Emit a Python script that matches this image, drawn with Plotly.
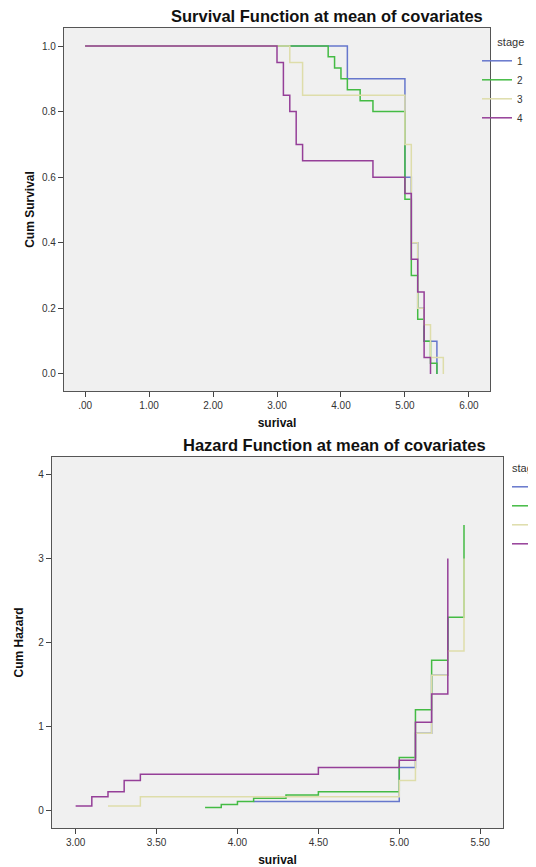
import plotly.graph_objects as go

# ---------------- data ----------------
stages = ["1", "2", "3", "4"]
colors = ["#6677cc", "#44bb44", "#deddaa", "#953f98"]

# Survival function (step, drawn with 'hv')
surv_t1 = [0, 4.1, 5.0, 5.1, 5.2, 5.3, 5.5]
surv_s1 = [1.0, 0.90, 0.60, 0.40, 0.20, 0.10, 0.0]
surv_t2 = [0, 3.8, 3.9, 4.0, 4.1, 4.3, 4.5, 5.0, 5.1, 5.2, 5.3, 5.4, 5.5]
surv_s2 = [1.0, 0.967, 0.933, 0.90, 0.867, 0.833, 0.80, 0.533, 0.30, 0.167, 0.10, 0.033, 0.0]
surv_t3 = [0, 3.2, 3.4, 5.0, 5.1, 5.2, 5.3, 5.4, 5.6]
surv_s3 = [1.0, 0.95, 0.85, 0.70, 0.40, 0.20, 0.15, 0.05, 0.0]
surv_t4 = [0, 3.0, 3.1, 3.2, 3.3, 3.4, 4.5, 5.0, 5.1, 5.2, 5.3, 5.4]
surv_s4 = [1.0, 0.95, 0.85, 0.80, 0.70, 0.65, 0.60, 0.55, 0.35, 0.25, 0.05, 0.0]

# Cumulative hazard (step, drawn with 'hv')
haz_t1 = [4.1, 5.0, 5.1, 5.2, 5.3]
haz_h1 = [0.105, 0.51, 0.92, 1.61, 2.30]
haz_t2 = [3.8, 3.9, 4.0, 4.1, 4.3, 4.5, 5.0, 5.1, 5.2, 5.3, 5.4]
haz_h2 = [0.034, 0.069, 0.105, 0.143, 0.182, 0.223, 0.63, 1.20, 1.79, 2.30, 3.40]
haz_t3 = [3.2, 3.4, 5.0, 5.1, 5.2, 5.3, 5.4]
haz_h3 = [0.051, 0.163, 0.357, 0.92, 1.61, 1.90, 3.0]
haz_t4 = [3.0, 3.1, 3.2, 3.3, 3.4, 4.5, 5.0, 5.1, 5.2, 5.3]
haz_h4 = [0.051, 0.163, 0.223, 0.357, 0.431, 0.511, 0.598, 1.05, 1.386, 3.0]

surv_x_ticks = [0, 1, 2, 3, 4, 5, 6]
surv_x_labels = [".00", "1.00", "2.00", "3.00", "4.00", "5.00", "6.00"]
surv_y_ticks = [0, 0.2, 0.4, 0.6, 0.8, 1.0]
surv_y_labels = ["0.0", "0.2", "0.4", "0.6", "0.8", "1.0"]
haz_x_ticks = [3.0, 3.5, 4.0, 4.5, 5.0, 5.5]
haz_x_labels = ["3.00", "3.50", "4.00", "4.50", "5.00", "5.50"]
haz_y_ticks = [0, 1, 2, 3, 4]
haz_y_labels = ["0", "1", "2", "3", "4"]

surv_t = [surv_t1, surv_t2, surv_t3, surv_t4]
surv_s = [surv_s1, surv_s2, surv_s3, surv_s4]
haz_t = [haz_t1, haz_t2, haz_t3, haz_t4]
haz_h = [haz_h1, haz_h2, haz_h3, haz_h4]

# ---------------- figure ----------------
OFF = 8  # page body margin
W, H = 536 - OFF, 867 - OFF
FONT = "Liberation Sans, Arial, sans-serif"
NB = "\u00a0"

fig = go.Figure()
for i, st in enumerate(stages):
    fig.add_trace(go.Scatter(
        x=surv_t[i], y=surv_s[i], mode="lines", line=dict(shape="hv", color=colors[i], width=1.5),
        name=st, xaxis="x", yaxis="y", legend="legend"))
for i, st in enumerate(stages):
    fig.add_trace(go.Scatter(
        x=haz_t[i], y=haz_h[i], mode="lines", line=dict(shape="hv", color=colors[i], width=1.5),
        name=st, xaxis="x2", yaxis="y2", legend="legend2"))


def px_x(p):
    return (p - OFF) / W


def px_y(p):
    return 1 - (p - OFF) / H


axis_common = dict(
    showgrid=False, zeroline=False, showline=True, mirror=True,
    linecolor="#555555", linewidth=1.3, ticks="outside", ticklen=5,
    tickcolor="#444444", tickfont=dict(family=FONT, size=10, color="#333333"),
)
title_font = dict(size=12, family=FONT, color="#111")

fig.update_layout(
    width=W, height=H,
    margin=dict(l=0, r=0, t=0, b=0, autoexpand=False),
    paper_bgcolor="white", plot_bgcolor="#f0f0f0",
    font=dict(family=FONT, color="#222222"),
    xaxis=dict(domain=[px_x(64), px_x(490)], range=[-0.33, 6.33], anchor="y",
               tickvals=surv_x_ticks, ticktext=surv_x_labels,
               title=dict(text="<b>surival</b>", font=title_font, standoff=8),
               **axis_common),
    yaxis=dict(domain=[px_y(391), px_y(28)], range=[-0.052, 1.055], anchor="x",
               tickvals=surv_y_ticks, ticktext=surv_y_labels,
               title=dict(text="<b>Cum Survival</b>", font=title_font, standoff=4),
               **axis_common),
    xaxis2=dict(domain=[px_x(52), px_x(503)], range=[2.854, 5.641], anchor="y2",
                tickvals=haz_x_ticks, ticktext=haz_x_labels,
                title=dict(text="<b>surival</b>", font=title_font, standoff=8),
                **axis_common),
    yaxis2=dict(domain=[px_y(828), px_y(457)], range=[-0.21, 4.21], anchor="x2",
                tickvals=haz_y_ticks, ticktext=haz_y_labels,
                title=dict(text="<b>Cum Hazard</b>", font=title_font, standoff=12),
                **axis_common),
    legend=dict(x=px_x(477), y=px_y(32), xanchor="left", yanchor="top",
                title=dict(text=NB * 6 + "stage", font=dict(size=11, family=FONT, color="#333")),
                font=dict(size=10, family=FONT, color="#333"), bgcolor="rgba(0,0,0,0)",
                itemwidth=30, tracegroupgap=0),
    legend2=dict(x=px_x(507), y=px_y(458), xanchor="left", yanchor="top",
                 title=dict(text=NB + "stage", font=dict(size=11, family=FONT, color="#333")),
                 font=dict(size=10, family=FONT, color="#333"), bgcolor="rgba(0,0,0,0)",
                 itemwidth=30, tracegroupgap=0),
    annotations=[
        dict(text="<b>Survival Function at mean of covariates</b>", x=px_x(327), y=px_y(16),
             xref="paper", yref="paper", xanchor="center", yanchor="middle", showarrow=False,
             font=dict(size=16.5, family=FONT, color="#111")),
        dict(text="<b>Hazard Function at mean of covariates</b>", x=px_x(334), y=px_y(445),
             xref="paper", yref="paper", xanchor="center", yanchor="middle", showarrow=False,
             font=dict(size=16.5, family=FONT, color="#111")),
    ],
)

fig.write_html("out.html")
